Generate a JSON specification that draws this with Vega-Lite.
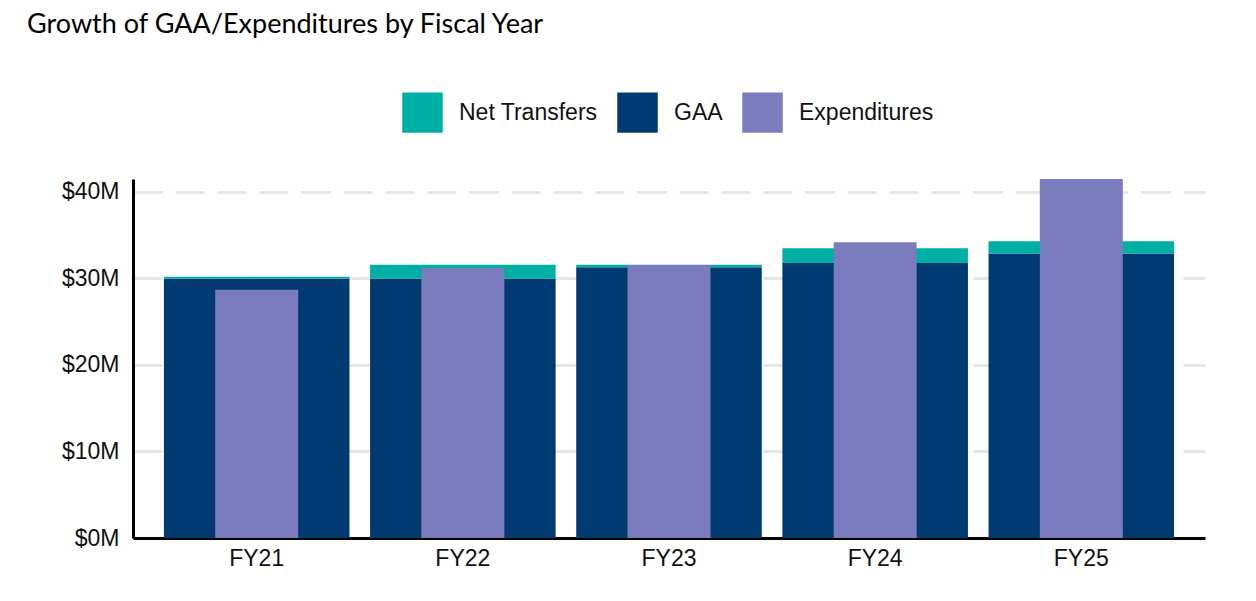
{
  "$schema": "https://vega.github.io/schema/vega-lite/v6.json",
  "width": 1072,
  "height": 359,
  "autosize": {"type": "none"},
  "padding": {"left": 133, "top": 179, "right": 51, "bottom": 63},
  "background": "white",
  "title": {
    "text": "Growth of GAA/Expenditures by Fiscal Year",
    "anchor": "start",
    "frame": "group",
    "font": "Lato",
    "fontSize": 27,
    "fontWeight": "normal",
    "color": "#000000",
    "baseline": "alphabetic",
    "dx": -106,
    "offset": 32
  },
  "data": {
    "values": [
      {"fy": "FY21", "series": "GAA", "value": 30.0},
      {"fy": "FY21", "series": "Net Transfers", "value": 0.2},
      {"fy": "FY21", "series": "Expenditures", "value": 28.7},
      {"fy": "FY22", "series": "GAA", "value": 30.0},
      {"fy": "FY22", "series": "Net Transfers", "value": 1.6},
      {"fy": "FY22", "series": "Expenditures", "value": 31.2},
      {"fy": "FY23", "series": "GAA", "value": 31.3},
      {"fy": "FY23", "series": "Net Transfers", "value": 0.3},
      {"fy": "FY23", "series": "Expenditures", "value": 31.55},
      {"fy": "FY24", "series": "GAA", "value": 31.8},
      {"fy": "FY24", "series": "Net Transfers", "value": 1.7},
      {"fy": "FY24", "series": "Expenditures", "value": 34.2},
      {"fy": "FY25", "series": "GAA", "value": 32.9},
      {"fy": "FY25", "series": "Net Transfers", "value": 1.4},
      {"fy": "FY25", "series": "Expenditures", "value": 41.5}
    ]
  },
  "encoding": {
    "x": {
      "field": "fy",
      "type": "nominal",
      "scale": {"paddingInner": 0.1, "paddingOuter": 0.15},
      "axis": {
        "title": null,
        "labelAngle": 0,
        "labelFont": "Liberation Sans",
        "labelFontSize": 23,
        "labelColor": "#111111",
        "labelPadding": 9,
        "ticks": false,
        "domainColor": "#000000",
        "domainWidth": 3,
        "grid": false
      }
    }
  },
  "layer": [
    {
      "transform": [{"filter": "datum.series !== 'Expenditures'"}],
      "mark": {"type": "bar"},
      "encoding": {
        "y": {
          "field": "value",
          "type": "quantitative",
          "stack": "zero",
          "scale": {"domain": [0, 41.5], "nice": false},
          "axis": {
            "title": null,
            "values": [0, 10, 20, 30, 40],
            "labelExpr": "'$' + datum.value + 'M'",
            "labelFont": "Liberation Sans",
            "labelFontSize": 23,
            "labelColor": "#111111",
            "labelPadding": 14,
            "ticks": false,
            "domainColor": "#000000",
            "domainWidth": 3,
            "grid": true,
            "gridColor": "#E6E6E6",
            "gridWidth": 3,
            "gridDash": [29, 13]
          }
        },
        "color": {
          "field": "series",
          "type": "nominal",
          "scale": {
            "domain": ["Net Transfers", "GAA", "Expenditures"],
            "range": ["#00AFA4", "#003A70", "#7A7CBD"]
          },
          "legend": {
            "orient": "none",
            "legendX": 269,
            "legendY": -87,
            "direction": "horizontal",
            "title": null,
            "symbolType": "square",
            "symbolSize": 1640,
            "symbolStrokeWidth": 0,
            "labelFont": "Liberation Sans",
            "labelFontSize": 23,
            "labelColor": "#111111",
            "labelOffset": 16,
            "columnPadding": 19
          }
        },
        "opacity": {
          "field": "series",
          "type": "nominal",
          "scale": {
            "domain": ["Net Transfers", "GAA", "Expenditures"],
            "range": [1, 1, 0.87]
          },
          "legend": {
            "orient": "none",
            "legendX": 269,
            "legendY": -87,
            "direction": "horizontal",
            "title": null,
            "symbolType": "square",
            "symbolSize": 1640,
            "symbolStrokeWidth": 0,
            "labelFont": "Liberation Sans",
            "labelFontSize": 23,
            "labelColor": "#111111",
            "labelOffset": 16,
            "columnPadding": 19
          }
        },
        "order": {"field": "series"}
      }
    },
    {
      "transform": [{"filter": "datum.series === 'Expenditures'"}],
      "mark": {"type": "bar", "size": 83},
      "encoding": {
        "y": {"field": "value", "type": "quantitative"},
        "color": {"field": "series", "type": "nominal"},
        "opacity": {"field": "series", "type": "nominal"}
      }
    }
  ],
  "config": {
    "view": {"stroke": null}
  }
}
